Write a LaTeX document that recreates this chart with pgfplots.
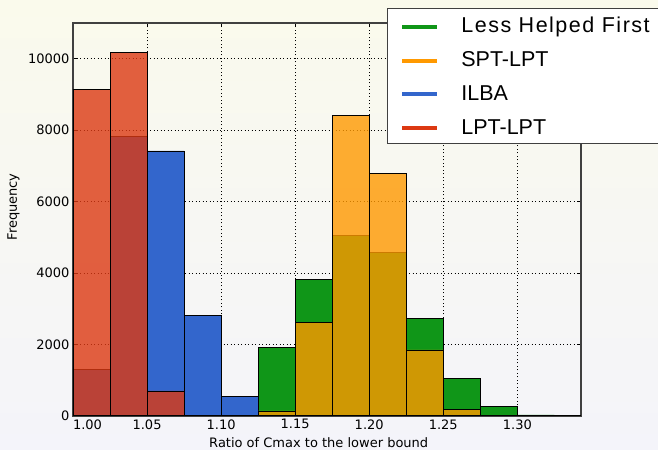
\documentclass[border=0pt]{standalone}
\usepackage{fontspec}
\setmainfont{DejaVu Sans}
\newfontfamily\legfont{Liberation Sans}
\usepackage{pgfplots}
\pgfplotsset{compat=1.18}
\definecolor{cgreen}{HTML}{109618}
\definecolor{cblue}{HTML}{3366CC}
\definecolor{corange}{HTML}{FF9900}
\definecolor{cred}{HTML}{DC3912}
\definecolor{bgtop}{RGB}{250,250,236}
\definecolor{bgbot}{RGB}{244,244,250}
\begin{document}
\begin{tikzpicture}
\useasboundingbox (0,0) rectangle (658bp,450bp);
\shade[top color=bgtop, bottom color=bgbot] (0,0) rectangle (658bp,450bp);
\begin{axis}[
  at={(73bp,34bp)}, anchor=south west,
  scale only axis, width=508bp, height=393bp,
  xmin=1.0, xmax=1.343, ymin=0, ymax=11000,
  scaled y ticks=false, scaled x ticks=false,
  xtick={1.00,1.05,1.10,1.15,1.20,1.25,1.30},
  xticklabels={\phantom{1.00}1.00,1.05,1.10,1.15,1.20,1.25,1.30},
  ytick={0,2000,4000,6000,8000,10000},
  yticklabels={0,2000,4000,6000,8000,10000},
  tick align=inside, tick pos=both, major tick length=4bp,
  tick style={black, line width=0.8bp},
  /pgf/number format/assume math mode=true,
  ticklabel style={font=\fontsize{13bp}{15bp}\selectfont},
  grid=major,
  grid style={black, line width=0.8bp, dash pattern=on 1bp off 2.5bp},
  axis line style={draw=black!75, line width=1.3bp},
  xlabel={Ratio of Cmax to the lower bound},
  ylabel={Frequency},
  label style={font=\fontsize{13bp}{15bp}\selectfont},
  xlabel style={at={(axis description cs:0.4837,-0.068)}, anchor=center},
  ylabel style={at={(axis description cs:-0.117,0.532)}, anchor=center},
  legend style={at={(axis description cs:0.618,1.038)}, anchor=north west,
    draw=black!75, line width=0.8bp, fill=white,
    font=\legfont\fontsize{21.5bp}{24bp}\selectfont,
    inner xsep=13bp, inner ysep=0bp,
    nodes={inner sep=0pt, text height=24.5bp, text depth=9.2bp},
    /tikz/every odd column/.append style={column sep=22bp}},
  legend cell align=left,
  legend image code/.code={\draw[line width=4bp] (0bp,-1.5bp) -- (35bp,-1.5bp);},
]
% Less Helped First
\addplot[ybar interval, fill=cgreen, draw=black, line width=0.8bp, forget plot]
  coordinates {(1.125,1920) (1.15,3830) (1.175,5050) (1.2,4580) (1.225,2720)
               (1.25,1060) (1.275,270) (1.3,30) (1.325,30)};
% ILBA
\addplot[ybar interval, fill=cblue, draw=black, line width=0.8bp, forget plot]
  coordinates {(1.0,1300) (1.025,7830) (1.05,7420) (1.075,2820) (1.1,540) (1.125,540)};
% SPT-LPT
\addplot[ybar interval, fill=corange, fill opacity=0.8, draw=black, line width=0.8bp, forget plot]
  coordinates {(1.125,140) (1.15,2630) (1.175,8400) (1.2,6800) (1.225,1850)
               (1.25,180) (1.275,180)};
% LPT-LPT
\addplot[ybar interval, fill=cred, fill opacity=0.8, draw=black, line width=0.8bp, forget plot]
  coordinates {(1.0,9130) (1.025,10180) (1.05,700) (1.075,700)};
\draw[black, line width=2bp] (rel axis cs:0,0) -- (rel axis cs:1,0);
\addlegendimage{color=cgreen}
\addlegendentry{\addfontfeatures{LetterSpace=7}Less Helped First}
\addlegendimage{color=corange}
\addlegendentry{SPT-LPT}
\addlegendimage{color=cblue}
\addlegendentry{ILBA}
\addlegendimage{color=cred}
\addlegendentry{LPT-LPT}
\end{axis}
\end{tikzpicture}
\end{document}
